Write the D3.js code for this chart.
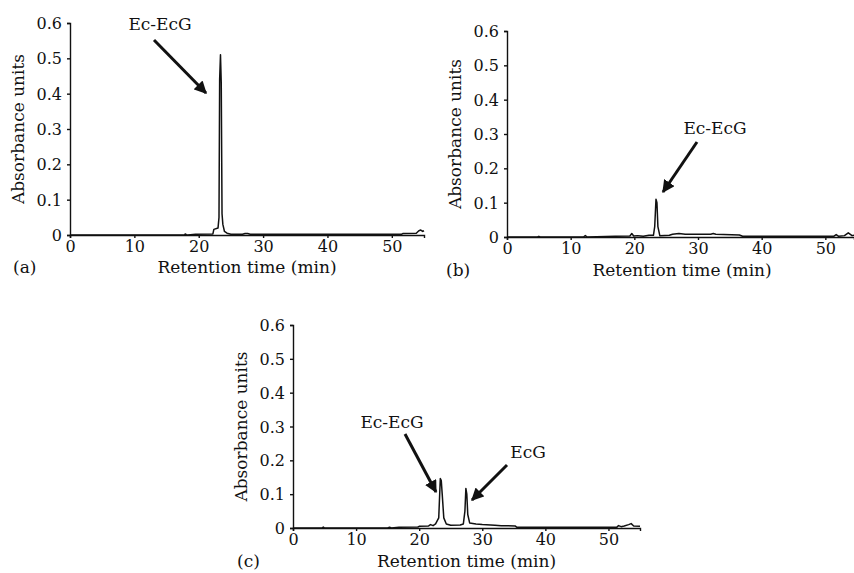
<!DOCTYPE html>
<html>
<head>
    <title>Chromatograms</title>
    <script src="https://cdn.jsdelivr.net/npm/d3@7"></script>
    <style>
        body { margin: 0; background: #fff; }
        text { font-family: 'DejaVu Serif', serif; fill: #111; }
    </style>
</head>
<body>
    <svg width="854" height="573" id="mainsvg"></svg>
    <script>
        // ---- data ----
        const yTicks = [0, 0.1, 0.2, 0.3, 0.4, 0.5, 0.6];
        const xTicks = [0, 10, 20, 30, 40, 50];

        // (a)
        const timeA = [0, 17.8, 17.9, 18.1, 18.3, 19.5, 22.2, 22.35, 23.0, 23.15, 23.25, 23.38, 23.5, 23.62, 23.75, 24.0, 24.4, 25.0, 26.8, 27.2, 27.6, 28.0, 51.5, 51.7, 53.8, 54.2, 54.5, 54.8, 55];
        const absA = [0, 0, 0.003, 0.001, 0, 0.002, 0.003, 0.016, 0.02, 0.05, 0.44, 0.51, 0.43, 0.06, 0.03, 0.01, 0.005, 0.002, 0.002, 0.004, 0.004, 0.002, 0.002, 0.004, 0.005, 0.012, 0.014, 0.01, 0.012];

        // (b)
        const timeB = [0, 4.8, 5.0, 5.2, 12.0, 12.3, 12.6, 17.0, 19.3, 19.6, 19.9, 20.5, 21.0, 21.4, 22.3, 23.0, 23.2, 23.4, 23.55, 23.7, 24.0, 25.5, 26.0, 27.0, 28.0, 32.0, 32.4, 32.8, 36.5, 37.0, 51.3, 51.7, 52.1, 53.0, 53.6, 54.2, 54.5];
        const absB = [0, 0, 0.002, 0, 0, 0.004, 0, 0.002, 0.003, 0.01, 0.003, 0.004, 0.003, 0.002, 0.005, 0.005, 0.03, 0.11, 0.1, 0.03, 0.004, 0.005, 0.008, 0.01, 0.008, 0.008, 0.01, 0.008, 0.006, 0.002, 0.002, 0.007, 0.002, 0.004, 0.012, 0.004, 0.005];

        // (c)
        const timeC = [0, 4.6, 4.8, 5.0, 15.0, 15.3, 15.6, 16.8, 19.8, 20.0, 21.5, 21.8, 22.2, 22.6, 23.1, 23.35, 23.5, 23.65, 23.9, 24.3, 25.0, 26.5, 27.0, 27.25, 27.4, 27.55, 27.7, 28.0, 29.0, 30.0, 32.0, 33.0, 35.2, 35.5, 51.3, 51.6, 52.0, 52.5, 53.2, 53.6, 54.0, 55];
        const absC = [0, 0, 0.003, 0, 0, 0.002, 0, 0.002, 0.003, 0.005, 0.006, 0.01, 0.007, 0.012, 0.03, 0.146, 0.14, 0.1, 0.03, 0.012, 0.008, 0.009, 0.012, 0.05, 0.117, 0.1, 0.04, 0.015, 0.012, 0.01, 0.008, 0.007, 0.006, 0.002, 0.002, 0.007, 0.004, 0.006, 0.01, 0.013, 0.006, 0.005];

        const svg = d3.select('#mainsvg');

        svg.append('defs').append('marker')
            .attr('id', 'head')
            .attr('viewBox', '0 0 10 10')
            .attr('refX', 9).attr('refY', 5)
            .attr('markerWidth', 4.2).attr('markerHeight', 4.2)
            .attr('markerUnits', 'strokeWidth')
            .attr('orient', 'auto')
            .append('path')
            .attr('d', 'M0,0 L10,5 L0,10 z')
            .attr('fill', '#111');

        const drawPanel = function (p) {
            const xScale = d3.scaleLinear().domain([0, p.xMax]).range([p.x0, p.x1]);
            const yScale = d3.scaleLinear().domain([0, 0.6]).range([p.y0, p.y1]);

            const xAxis = d3.axisBottom(xScale).tickValues(xTicks).tickSize(3).tickPadding(1);
            const yAxis = d3.axisLeft(yScale).tickValues(yTicks).tickSize(3).tickPadding(5)
                .tickFormat(d => d === 0 ? '0' : d3.format('.1f')(d));

            const xg = svg.append('g').attr('transform', `translate(0, ${p.y0})`).call(xAxis);
            const yg = svg.append('g').attr('transform', `translate(${p.x0}, 0)`).call(yAxis);
            [xg, yg].forEach(ag => {
                ag.selectAll('path, line').attr('stroke', '#111').attr('stroke-width', 1.4);
                ag.selectAll('text').attr('font-size', '16px').attr('font-family', 'DejaVu Serif').attr('fill', '#111');
            });
            xg.selectAll('text').attr('dy', '0.8em');
            yg.selectAll('text').attr('dy', '0.35em');

            const pts = p.time.map((t, i) => [t, p.abs[i]]);
            svg.append('path')
                .datum(pts)
                .attr('d', d3.line().x(d => xScale(d[0])).y(d => yScale(d[1])))
                .attr('fill', 'none')
                .attr('stroke', '#111')
                .attr('stroke-width', 1.5)
                .attr('stroke-linejoin', 'round');

            // axis titles and panel letter
            svg.append('text')
                .attr('x', (p.x0 + xScale(55)) / 2).attr('y', p.y0 + p.titleDy)
                .attr('text-anchor', 'middle').attr('font-size', '17px')
                .text('Retention time (min)');
            svg.append('text')
                .attr('transform', `translate(${p.x0 - 46}, ${(p.y0 + p.y1) / 2}) rotate(-90)`)
                .attr('text-anchor', 'middle').attr('font-size', '17px')
                .text('Absorbance units');
            svg.append('text')
                .attr('x', p.letterX).attr('y', p.y0 + p.titleDy)
                .attr('font-size', '17px')
                .text(p.letter);

            // peak labels with arrows
            p.notes.forEach(n => {
                svg.append('text')
                    .attr('x', n.tx).attr('y', n.ty)
                    .attr('text-anchor', 'middle').attr('font-size', '17px')
                    .text(n.label);
                svg.append('line')
                    .attr('x1', n.ax1).attr('y1', n.ay1)
                    .attr('x2', n.ax2).attr('y2', n.ay2)
                    .attr('stroke', '#111').attr('stroke-width', 3)
                    .attr('marker-end', 'url(#head)');
            });
        };

        drawPanel({
            time: timeA, abs: absA, xMax: 55,
            x0: 70, x1: 424, y0: 235, y1: 23,
            titleDy: 38, letter: '(a)', letterX: 13,
            notes: [{ label: 'Ec-EcG', tx: 160, ty: 30, ax1: 154, ay1: 40, ax2: 206, ay2: 93 }]
        });

        drawPanel({
            time: timeB, abs: absB, xMax: 54.5,
            x0: 507, x1: 854, y0: 237, y1: 31,
            titleDy: 39, letter: '(b)', letterX: 446,
            notes: [{ label: 'Ec-EcG', tx: 715, ty: 134, ax1: 697, ay1: 142, ax2: 663, ay2: 192 }]
        });

        drawPanel({
            time: timeC, abs: absC, xMax: 55,
            x0: 293, x1: 640, y0: 528, y1: 325,
            titleDy: 39, letter: '(c)', letterX: 237,
            notes: [
                { label: 'Ec-EcG', tx: 392, ty: 428, ax1: 405, ay1: 434, ax2: 436, ay2: 492 },
                { label: 'EcG', tx: 528, ty: 458, ax1: 507, ay1: 465, ax2: 472, ay2: 500 }
            ]
        });
    </script>
</body>
</html>
